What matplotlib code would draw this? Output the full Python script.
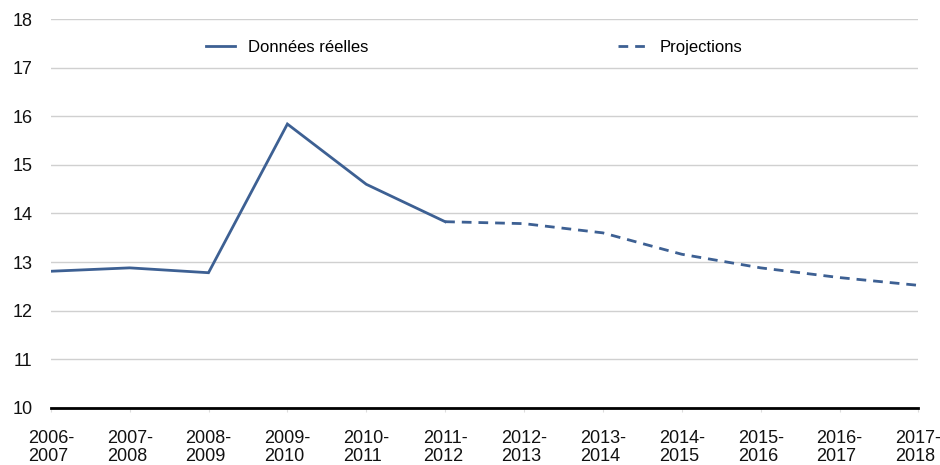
"""Solde budgétaire : données réelles et projections, 2006-2007 à 2017-2018."""

import matplotlib
matplotlib.use("Agg")
import matplotlib.pyplot as plt
from matplotlib.lines import Line2D

plt.rcParams["font.family"] = ["Liberation Sans", "DejaVu Sans"]

# ─────────────────────────────────────────────────────────────────────────────
# DATA
# ─────────────────────────────────────────────────────────────────────────────
years = ["2006-\n2007", "2007-\n2008", "2008-\n2009", "2009-\n2010",
         "2010-\n2011", "2011-\n2012", "2012-\n2013", "2013-\n2014",
         "2014-\n2015", "2015-\n2016", "2016-\n2017", "2017-\n2018"]
actual = [12.81, 12.88, 12.78, 15.84, 14.60, 13.83]
projected = [13.83, 13.79, 13.60, 13.16, 12.88, 12.68, 12.52]
y_ticks = [10, 11, 12, 13, 14, 15, 16, 17, 18]

LINE_COLOR = "#3d6093"
DASHES = (0, (3.5, 2.5))

fig = plt.figure(figsize=(9.4, 4.65), dpi=100)
ax = fig.add_axes([0.054, 0.123, 0.923, 0.836])

x_actual = list(range(len(actual)))
x_proj = list(range(len(actual) - 1, len(actual) - 1 + len(projected)))

ax.plot(x_actual, actual, color=LINE_COLOR, lw=2.0, solid_joinstyle="miter")
ax.plot(x_proj, projected, color=LINE_COLOR, lw=2.0, ls=DASHES)

ax.set_xlim(0, len(years) - 1)
ax.set_ylim(10, 18)
ax.set_yticks(y_ticks)
ax.set_xticks(range(len(years)))
ax.set_xticklabels(years, fontsize=13, linespacing=1.1, multialignment="left")
ax.tick_params(axis="y", labelsize=13, length=0, pad=13)
ax.tick_params(axis="x", length=3, color="#dddddd", pad=13)
for lbl in ax.get_xticklabels():
    lbl.set_color("#111111")
for lbl in ax.get_yticklabels():
    lbl.set_color("#111111")

ax.grid(axis="y", color="#d0d0d0", lw=1.0)
ax.set_axisbelow(True)
for side in ("left", "right", "top"):
    ax.spines[side].set_visible(False)
ax.spines["bottom"].set_color("black")
ax.spines["bottom"].set_linewidth(2.0)
ax.spines["bottom"].set_zorder(5)

handles = [Line2D([], [], color=LINE_COLOR, lw=2.0),
           Line2D([], [], color=LINE_COLOR, lw=2.0, ls=DASHES)]
ax.legend(handles, ["Données réelles", "Projections"], ncol=2,
          loc="upper left", bbox_to_anchor=(0.162, 0.985), frameon=False,
          fontsize=12, handlelength=1.7, columnspacing=15.0)

fig.savefig("out.png", dpi=100)
